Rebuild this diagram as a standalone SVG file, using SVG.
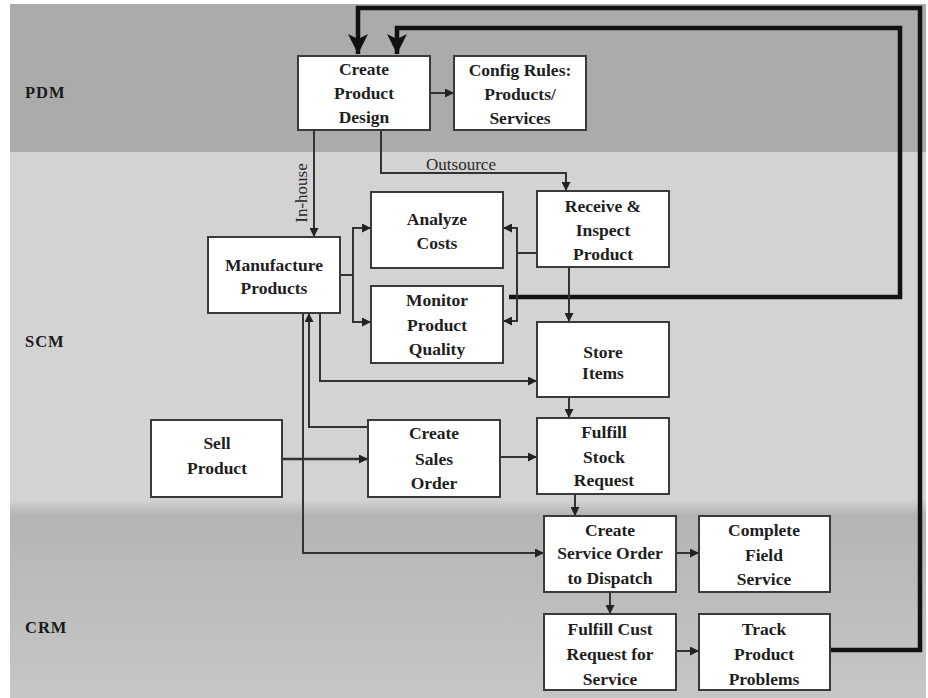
<svg xmlns="http://www.w3.org/2000/svg" width="928" height="698" viewBox="0 0 928 698">
  <defs>
    <style>
      .box { fill: #ffffff; stroke: #3a3a3a; stroke-width: 2; }
      .t { font-family: "Liberation Serif", "Times New Roman", serif; font-weight: bold; font-size: 17.5px; fill: #1e1e1e; text-anchor: middle; }
      .lane { font-family: "Liberation Serif", "Times New Roman", serif; font-weight: bold; font-size: 16.5px; fill: #1a1a1a; letter-spacing: 1px; }
      .lbl { font-family: "Liberation Serif", "Times New Roman", serif; font-size: 17px; fill: #2a2a2a; text-anchor: middle; }
      .c { fill: none; stroke: #333333; stroke-width: 2; }
      .ca { fill: none; stroke: #333333; stroke-width: 2; marker-end: url(#arr); }
      .thick { fill: none; stroke: #111111; stroke-width: 4.5; marker-end: url(#big); }
    </style>
    <marker id="arr" viewBox="0 0 10 10" refX="10" refY="5" markerWidth="10" markerHeight="9" markerUnits="userSpaceOnUse" orient="auto">
      <path d="M0,0 L10,5 L0,10 Z" fill="#222222"/>
    </marker>
    <marker id="big" viewBox="0 0 20 20" refX="20" refY="10" markerWidth="20" markerHeight="20" markerUnits="userSpaceOnUse" orient="auto">
      <path d="M0,0 L20,10 L0,20 L5,10 Z" fill="#111111"/>
    </marker>
    <linearGradient id="crmFill" x1="0" y1="0" x2="0" y2="1">
      <stop offset="0" stop-color="#b4b4b4"/>
      <stop offset="1" stop-color="#c6c6c6"/>
    </linearGradient>
    <linearGradient id="scmEdge" x1="0" y1="0" x2="0" y2="1">
      <stop offset="0" stop-color="#d3d3d3"/>
      <stop offset="1" stop-color="#b6b6b6"/>
    </linearGradient>
  </defs>

  <!-- page and swimlane bands -->
  <rect x="0" y="0" width="928" height="698" fill="#ffffff"/>
  <rect x="10" y="4" width="916" height="148" fill="#ababab"/>
  <rect x="10" y="152" width="916" height="348" fill="#d3d3d3"/>
  <rect x="10" y="500" width="916" height="14" fill="url(#scmEdge)"/>
  <rect x="10" y="514" width="916" height="184" fill="url(#crmFill)"/>

  <!-- lane labels -->
  <text class="lane" x="25" y="98">PDM</text>
  <text class="lane" x="25" y="347">SCM</text>
  <text class="lane" x="25" y="633">CRM</text>

  <!-- connectors -->
  <g id="connectors">
    <path class="thick" d="M830,650 H920 V8 H358 V54"/>
    <path class="thick" d="M509,297 H900 V28 H397 V54"/>

    <path class="ca" d="M430,93 H454"/>
    <path class="ca" d="M314,130 V237"/>
    <path class="ca" d="M381,130 V173 H566 V191"/>

    <path class="c" d="M340,275 H353"/>
    <path class="ca" d="M353,275 V228 H371"/>
    <path class="ca" d="M353,275 V322 H371"/>

    <path class="c" d="M537,253 H517"/>
    <path class="ca" d="M517,253 V228 H503"/>
    <path class="ca" d="M517,253 V321 H503"/>

    <path class="ca" d="M569,267 V322"/>
    <path class="ca" d="M569,397 V418"/>
    <path class="ca" d="M575,494 V516"/>
    <path class="ca" d="M610,592 V614"/>
    <path class="ca" d="M676,553 H699"/>
    <path class="ca" d="M676,651 H699"/>

    <path class="ca" d="M282,459 H368" style="stroke-width:2.5"/>
    <path class="ca" d="M500,457 H537"/>

    <path class="ca" d="M320,313 V381 H537"/>
    <path class="ca" d="M368,427 H309 V313"/>
    <path class="ca" d="M303,313 V553 H544"/>

    <text class="lbl" x="461" y="170">Outsource</text>
    <text class="lbl" transform="translate(307,193) rotate(-90)">In-house</text>
  </g>

  <!-- nodes -->
  <g id="create-product-design">
    <rect class="box" x="298" y="56" width="132" height="74"/>
    <text class="t" x="364" y="75">Create</text>
    <text class="t" x="364" y="99">Product</text>
    <text class="t" x="364" y="123">Design</text>
  </g>
  <g id="config-rules">
    <rect class="box" x="454" y="56" width="132" height="74"/>
    <text class="t" x="520" y="76">Config Rules:</text>
    <text class="t" x="520" y="100">Products/</text>
    <text class="t" x="520" y="124">Services</text>
  </g>
  <g id="receive-inspect">
    <rect class="box" x="537" y="191" width="132" height="76"/>
    <text class="t" x="603" y="212">Receive &amp;</text>
    <text class="t" x="603" y="236">Inspect</text>
    <text class="t" x="603" y="260">Product</text>
  </g>
  <g id="analyze-costs">
    <rect class="box" x="371" y="192" width="132" height="76"/>
    <text class="t" x="437" y="225">Analyze</text>
    <text class="t" x="437" y="249">Costs</text>
  </g>
  <g id="monitor-quality">
    <rect class="box" x="371" y="286" width="132" height="77"/>
    <text class="t" x="437" y="306">Monitor</text>
    <text class="t" x="437" y="331">Product</text>
    <text class="t" x="437" y="355">Quality</text>
  </g>
  <g id="manufacture-products">
    <rect class="box" x="208" y="237" width="132" height="76"/>
    <text class="t" x="274" y="271">Manufacture</text>
    <text class="t" x="274" y="294">Products</text>
  </g>
  <g id="store-items">
    <rect class="box" x="537" y="322" width="132" height="75"/>
    <text class="t" x="603" y="358">Store</text>
    <text class="t" x="603" y="379">Items</text>
  </g>
  <g id="fulfill-stock-request">
    <rect class="box" x="537" y="418" width="132" height="76"/>
    <text class="t" x="604" y="438">Fulfill</text>
    <text class="t" x="604" y="463">Stock</text>
    <text class="t" x="604" y="486">Request</text>
  </g>
  <g id="sell-product">
    <rect class="box" x="151" y="420" width="131" height="77"/>
    <text class="t" x="217" y="449">Sell</text>
    <text class="t" x="217" y="474">Product</text>
  </g>
  <g id="create-sales-order">
    <rect class="box" x="368" y="420" width="132" height="77"/>
    <text class="t" x="434" y="439">Create</text>
    <text class="t" x="434" y="465">Sales</text>
    <text class="t" x="434" y="489">Order</text>
  </g>
  <g id="create-service-order">
    <rect class="box" x="544" y="516" width="132" height="76"/>
    <text class="t" x="610" y="536">Create</text>
    <text class="t" x="610" y="559">Service Order</text>
    <text class="t" x="610" y="584">to Dispatch</text>
  </g>
  <g id="complete-field-service">
    <rect class="box" x="699" y="516" width="131" height="76"/>
    <text class="t" x="764" y="536">Complete</text>
    <text class="t" x="764" y="561">Field</text>
    <text class="t" x="764" y="585">Service</text>
  </g>
  <g id="fulfill-cust-request">
    <rect class="box" x="544" y="614" width="132" height="76"/>
    <text class="t" x="610" y="635">Fulfill Cust</text>
    <text class="t" x="610" y="660">Request for</text>
    <text class="t" x="610" y="685">Service</text>
  </g>
  <g id="track-product-problems">
    <rect class="box" x="699" y="614" width="131" height="76"/>
    <text class="t" x="764" y="635">Track</text>
    <text class="t" x="764" y="660">Product</text>
    <text class="t" x="764" y="685">Problems</text>
  </g>
</svg>
